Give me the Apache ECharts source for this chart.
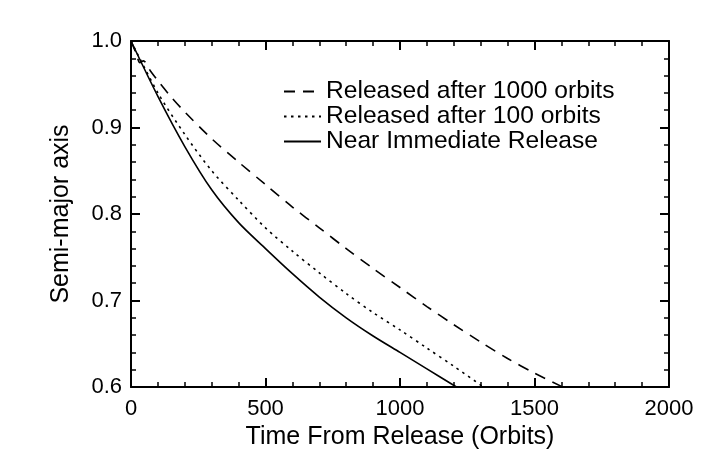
<!DOCTYPE html>
<html>
<head>
<meta charset="utf-8">
<script src="https://cdn.jsdelivr.net/npm/echarts@6/dist/echarts.min.js"></script>
<style>
  html, body { margin: 0; padding: 0; background: #fff; }
  #chart { width: 708px; height: 471px; }
</style>
</head>
<body>
<div id="chart"></div>
<script>
// values
const seriesNames = ['Released after 1000 orbits', 'Released after 100 orbits', 'Near Immediate Release']

const time1000 = [0, 20, 33, 46, 71, 100, 150, 200, 300, 400, 500, 600, 700, 800, 900, 1000, 1100, 1200, 1300, 1400, 1500, 1605]
const axis1000 = [1.000, 0.985, 0.975, 0.977, 0.966, 0.954, 0.935, 0.918, 0.887, 0.860, 0.834, 0.808, 0.784, 0.760, 0.737, 0.715, 0.693, 0.672, 0.652, 0.633, 0.616, 0.600]

const time100 = [0, 100, 200, 300, 400, 500, 600, 700, 800, 900, 1000, 1100, 1200, 1310]
const axis100 = [1.000, 0.940, 0.892, 0.850, 0.816, 0.784, 0.757, 0.732, 0.708, 0.686, 0.666, 0.645, 0.624, 0.600]

const timeNear = [0, 100, 200, 300, 400, 500, 600, 700, 800, 900, 1000, 1100, 1210]
const axisNear = [1.000, 0.936, 0.878, 0.828, 0.790, 0.760, 0.731, 0.704, 0.680, 0.659, 0.640, 0.621, 0.600]

const xTicks = [0, 500, 1000, 1500, 2000]
const yTicks = [0.6, 0.7, 0.8, 0.9, 1.0]

const FONT = 'Liberation Sans'

function pairs(xs, ys) {
  return xs.map((x, i) => [x, ys[i]])
}

function xAxisDef(position, showLabels) {
  return {
    type: 'value',
    position: position,
    min: xTicks[0],
    max: xTicks[xTicks.length - 1],
    interval: xTicks[1] - xTicks[0],
    name: showLabels ? 'Time From Release (Orbits)' : '',
    nameLocation: 'middle',
    nameGap: 38,
    nameTextStyle: { color: '#000', fontFamily: FONT, fontSize: 25 },
    axisLine: { show: true, onZero: false, lineStyle: { color: '#000', width: 2 } },
    axisTick: { show: true, inside: true, length: 9, lineStyle: { color: '#000', width: 2 } },
    minorTick: { show: true, splitNumber: 5, length: 5, lineStyle: { color: '#000', width: 1.5 } },
    axisLabel: {
      show: showLabels, color: '#000', fontFamily: FONT, fontSize: 22, margin: 11,
      formatter: v => String(v)
    },
    splitLine: { show: false }
  }
}

function yAxisDef(position, showLabels) {
  return {
    type: 'value',
    position: position,
    min: yTicks[0],
    max: yTicks[yTicks.length - 1],
    interval: 0.1,
    name: showLabels ? 'Semi-major axis' : '',
    nameLocation: 'middle',
    nameGap: 57,
    nameTextStyle: { color: '#000', fontFamily: FONT, fontSize: 25 },
    axisLine: { show: true, onZero: false, lineStyle: { color: '#000', width: 2 } },
    axisTick: { show: true, inside: true, length: 9, lineStyle: { color: '#000', width: 2 } },
    minorTick: { show: true, splitNumber: 5, length: 5, lineStyle: { color: '#000', width: 1.5 } },
    axisLabel: {
      show: showLabels, color: '#000', fontFamily: FONT, fontSize: 22, margin: 9,
      formatter: v => v.toFixed(1)
    },
    splitLine: { show: false }
  }
}

function lineSeries(name, xs, ys, dash) {
  return {
    name: name,
    type: 'line',
    xAxisIndex: 0,
    yAxisIndex: 0,
    data: pairs(xs, ys),
    symbol: 'none',
    smooth: 0.3,
    lineStyle: { color: '#000', width: 1.6, type: dash },
    itemStyle: { color: '#000' }
  }
}

const chart = echarts.init(document.getElementById('chart'), null, { renderer: 'canvas' })
chart.setOption({
  animation: false,
  backgroundColor: '#fff',
  grid: { left: 131, top: 41, right: 39, bottom: 84, containLabel: false },
  legend: {
    data: seriesNames,
    orient: 'vertical',
    left: 283,
    top: 79,
    padding: 0,
    itemWidth: 37,
    itemHeight: 14,
    itemGap: 0,
    itemStyle: { opacity: 0 },
    textStyle: { color: '#000', fontFamily: FONT, fontSize: 24.6, lineHeight: 25 },
    selectedMode: false
  },
  xAxis: [xAxisDef('bottom', true), xAxisDef('top', false)],
  yAxis: [yAxisDef('left', true), yAxisDef('right', false)],
  series: [
    lineSeries(seriesNames[0], time1000, axis1000, [11, 8]),
    lineSeries(seriesNames[1], time100, axis100, [2.5, 4.5]),
    lineSeries(seriesNames[2], timeNear, axisNear, 'solid')
  ]
})
</script>
</body>
</html>
